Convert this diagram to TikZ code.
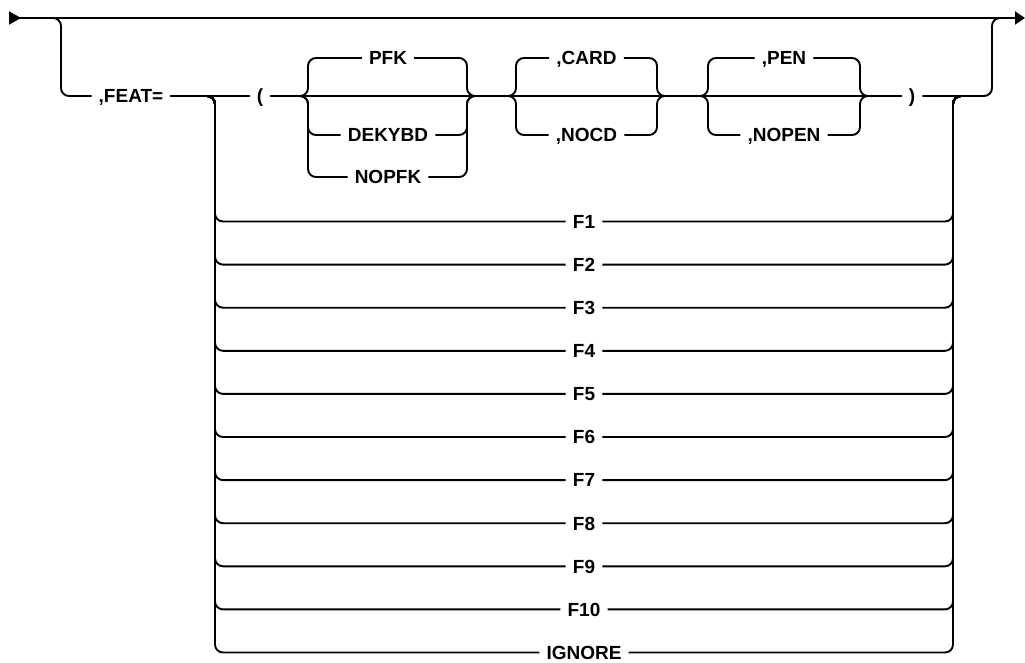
\documentclass[tikz,border=0pt]{standalone}
\usepackage{fontspec}
\setmainfont{Liberation Sans}
\usetikzlibrary{arrows.meta}

\begin{document}
\begin{tikzpicture}[
        x=1pt, y=-1pt,
        kw/.style={font=\fontsize{19}{22}\selectfont\bfseries, inner xsep=7pt, inner ysep=0pt, text height=13.6pt, text depth=0pt},
        rail/.style={line width=1.9pt, rounded corners=8pt}
    ]
    \useasboundingbox (0,0) rectangle (1025,663);

    % main line
    \coordinate (start) at (9,18);
    \coordinate (finish) at (1025,18);
    \draw[line width=1.9pt, {Triangle[reversed,length=12pt,width=13pt]}-{Triangle[length=10pt,width=13pt]}] (start) -- (finish);

    % left loop down to ,FEAT=
    \node[kw] (feat) at (131,96) {,FEAT=};
    \coordinate (ls) at (45,18);
    \coordinate (lc) at (61,96);
    \draw[rail] (ls) -| (lc) -- (feat.west);

    % parentheses row
    \node[kw] (lpar) at (260,96) {(};
    \node[kw] (rpar) at (912,96) {)};
    \draw[rail] (feat.east) -- (lpar.west);
    \draw[rail] (lpar.east) -- (rpar.west);

    % PFK group
    \coordinate (pin) at (300,96);
    \coordinate (pl) at (308,96);
    \coordinate (pr) at (467,96);
    \coordinate (pout) at (475,96);
    \node[kw] (pfk) at (388,58) {PFK};
    \node[kw] (dekybd) at (388,135) {DEKYBD};
    \node[kw] (nopfk) at (388,177) {NOPFK};
    \foreach \n in {pfk,dekybd,nopfk}
        \draw[rail] (pin) -- (pl) |- (\n.west) (\n.east) -| (pr) -- (pout);

    % CARD group
    \coordinate (cin) at (508,96);
    \coordinate (cl) at (516,96);
    \coordinate (cr) at (657,96);
    \coordinate (cout) at (665,96);
    \node[kw] (card) at (586.5,58) {,CARD};
    \node[kw] (nocd) at (586.5,135) {,NOCD};
    \foreach \n in {card,nocd}
        \draw[rail] (cin) -- (cl) |- (\n.west) (\n.east) -| (cr) -- (cout);

    % PEN group
    \coordinate (ein) at (700,96);
    \coordinate (el) at (708,96);
    \coordinate (er) at (860,96);
    \coordinate (eout) at (868,96);
    \node[kw] (pen) at (784,58) {,PEN};
    \node[kw] (nopen) at (784,135) {,NOPEN};
    \foreach \n in {pen,nopen}
        \draw[rail] (ein) -- (el) |- (\n.west) (\n.east) -| (er) -- (eout);

    % feature list
    \coordinate (fin) at (207,96);
    \coordinate (fl) at (215,96);
    \coordinate (fr) at (953,96);
    \coordinate (fout) at (961,96);
    \foreach \lbl [count=\k] in {F1,F2,F3,F4,F5,F6,F7,F8,F9,F10,IGNORE} {
        \node[kw] (f\k) at (584,{221.5+43.1*(\k-1)}) {\lbl};
        \draw[rail] (fin) -- (fl) |- (f\k.west) (f\k.east) -| (fr) -- (fout);
    }

    % back up to main line
    \coordinate (rc) at (992,96);
    \coordinate (re) at (1000,18);
    \draw[rail] (rpar.east) -- (rc) |- (re);
\end{tikzpicture}
\end{document}
